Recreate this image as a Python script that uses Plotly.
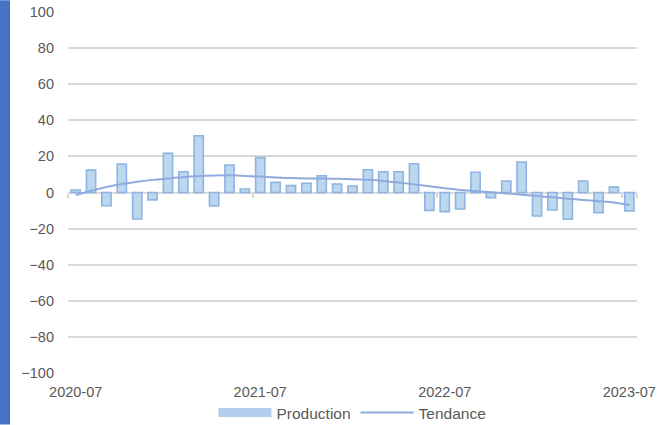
import plotly.graph_objects as go

# Monthly categories, July 2020 to July 2023
months = [
    "2020-07", "2020-08", "2020-09", "2020-10", "2020-11", "2020-12",
    "2021-01", "2021-02", "2021-03", "2021-04", "2021-05", "2021-06",
    "2021-07", "2021-08", "2021-09", "2021-10", "2021-11", "2021-12",
    "2022-01", "2022-02", "2022-03", "2022-04", "2022-05", "2022-06",
    "2022-07", "2022-08", "2022-09", "2022-10", "2022-11", "2022-12",
    "2023-01", "2023-02", "2023-03", "2023-04", "2023-05", "2023-06",
    "2023-07",
]

# Monthly production variation
production = [
    1.4, 12.4, -7.3, 15.8, -14.7, -4.1,
    21.7, 11.5, 31.4, -7.5, 15.2, 1.9,
    19.3, 5.6, 3.8, 5.1, 9.3, 4.7,
    3.6, 12.6, 11.5, 11.5, 15.9, -9.9,
    -10.6, -9.1, 11.2, -2.9, 6.4, 16.9,
    -13.0, -9.7, -14.8, 6.4, -11.2, 3.0,
    -10.2,
]

# Smoothed trend
tendance = [
    -1.4, 1.0, 3.0, 4.7, 6.0, 7.0,
    7.8, 8.5, 9.1, 9.4, 9.5, 9.2,
    8.8, 8.3, 8.0, 7.8, 7.7, 7.6,
    7.4, 7.0, 6.4, 5.5, 4.5, 3.5,
    2.4, 1.4, 0.8, 0.1, -0.5, -1.2,
    -1.9, -2.7, -3.4, -4.1, -4.8, -5.5,
    -6.9,
]

year_ticks = ["2020-07", "2021-07", "2022-07", "2023-07"]
y_ticks = list(range(-100, 101, 20))

FONT = "Liberation Sans, Arial, sans-serif"
TEXT = "#595959"
GRID = "#D9D9D9"
BAR_FILL = "rgb(189,215,238)"
BAR_EDGE = "rgb(141,180,226)"
TREND = "rgb(143,170,220)"

W, H = 663, 425
ML, MR, MT, MB = 68, 26, 11.7, 51.7
PW, PH = W - ML - MR, H - MT - MB

fig = go.Figure()

fig.add_trace(go.Bar(
    x=months, y=production, name="Production",
    marker=dict(color=BAR_FILL, line=dict(color=BAR_EDGE, width=1.6)),
    legendgroup="prod", showlegend=False,
    xaxis="x", yaxis="y",
))

# wide swatch for the bar series in the legend
fig.add_trace(go.Scatter(
    x=[None], y=[None], name="Production", mode="lines",
    line=dict(color="rgb(178,206,236)", width=9),
    legendgroup="prod", showlegend=True, hoverinfo="skip",
    xaxis="x", yaxis="y",
))

fig.add_trace(go.Scatter(
    x=months, y=tendance, name="Tendance", mode="lines",
    line=dict(color=TREND, width=2, shape="spline", smoothing=1),
    xaxis="x2", yaxis="y",
))

cat_range = [-0.5, len(months) - 0.5]

fig.update_layout(
    width=W, height=H,
    margin=dict(l=ML, r=MR, t=MT, b=MB, autoexpand=False),
    paper_bgcolor="white", plot_bgcolor="white",
    font=dict(family=FONT, size=14.5, color=TEXT),
    bargap=0.4,
    showlegend=True,
    legend=dict(
        orientation="h", x=0.5, xanchor="center",
        yref="container", y=12 / H, yanchor="middle",
        font=dict(size=15.5, color=TEXT), itemwidth=53,
        bgcolor="rgba(0,0,0,0)", tracegroupgap=0,
    ),
    xaxis=dict(
        type="category", categoryorder="array", categoryarray=months,
        range=cat_range, tickmode="array", tickvals=year_ticks,
        showgrid=False, showline=False, zeroline=False, ticks="",
        ticklabelstandoff=8,
        tickfont=dict(size=14.5, color=TEXT),
    ),
    # axis line through zero with cross ticks at year boundaries
    xaxis2=dict(
        type="category", categoryorder="array", categoryarray=months,
        range=cat_range, overlaying="x", anchor="free", position=0.5,
        tickmode="array", tickvals=year_ticks, tickson="boundaries",
        ticks="outside", ticklen=4, tickwidth=1.6, tickcolor=GRID,
        showticklabels=False, showgrid=False, showline=False, zeroline=False,
    ),
    xaxis3=dict(
        type="category", categoryorder="array", categoryarray=months,
        range=cat_range, overlaying="x", anchor="free", position=0.5,
        tickmode="array", tickvals=year_ticks, tickson="boundaries",
        ticks="inside", ticklen=4, tickwidth=1.6, tickcolor=GRID,
        showticklabels=False, showgrid=False, showline=False, zeroline=False,
    ),
    yaxis=dict(
        range=[-100, 100], tickmode="array", tickvals=y_ticks,
        showgrid=True, gridcolor=GRID, gridwidth=1.6,
        zeroline=True, zerolinecolor=GRID, zerolinewidth=2,
        showline=False, ticks="", ticklabelstandoff=13,
        tickfont=dict(size=14.5, color=TEXT),
    ),
    shapes=[dict(
        type="rect", xref="paper", yref="paper", layer="above",
        x0=-ML / PW, x1=(10 - ML) / PW,
        y0=-MB / PH, y1=1 + MT / PH,
        fillcolor="#4472C4", line=dict(width=0),
    )],
)

fig.write_html("out.html")
